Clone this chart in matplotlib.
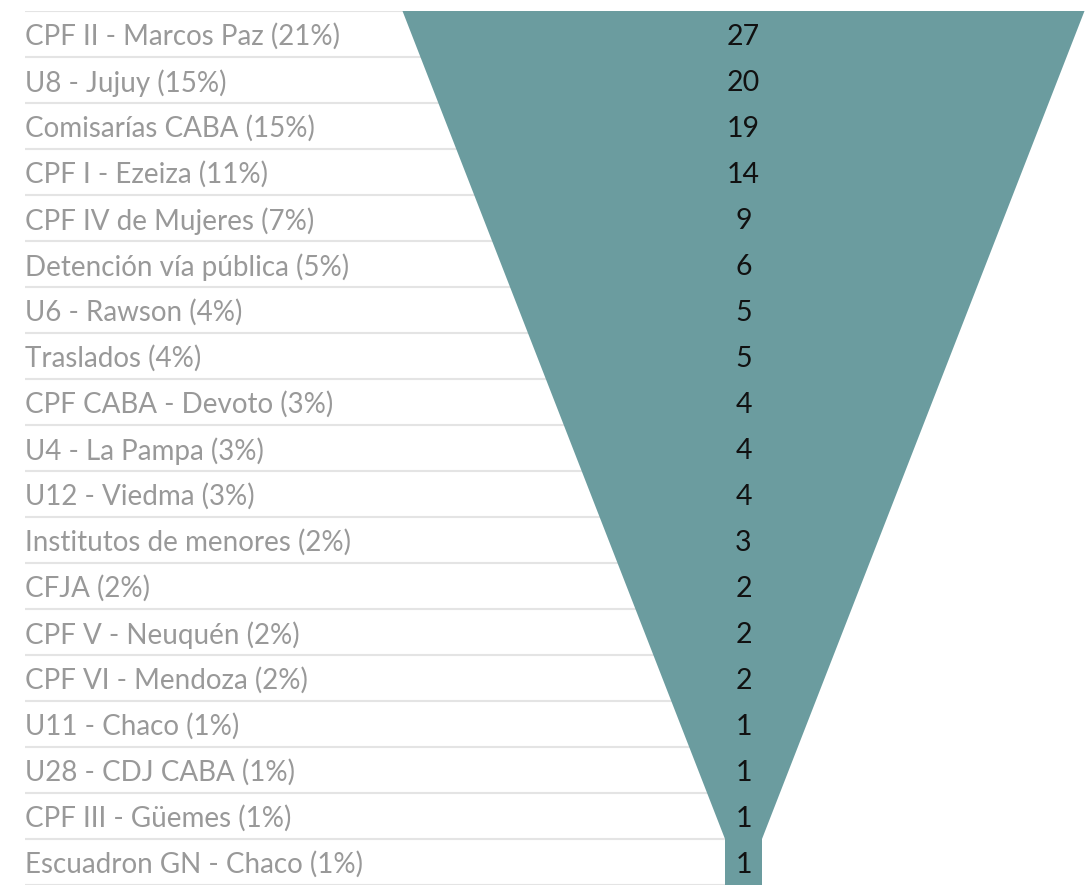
import numpy as np
import matplotlib.pyplot as plt
from matplotlib.patches import Polygon

# - - - - - - - - - - - - - - - - - - - - - - - - - - - - - - - - -
# DATA
# - - - - - - - - - - - - - - - - - - - - - - - - - - - - - - - - -

places = ['CPF II - Marcos Paz', 'U8 - Jujuy', 'Comisarías CABA', 'CPF I - Ezeiza',
          'CPF IV de Mujeres', 'Detención vía pública', 'U6 - Rawson', 'Traslados',
          'CPF CABA - Devoto', 'U4 - La Pampa', 'U12 - Viedma', 'Institutos de menores',
          'CFJA', 'CPF V - Neuquén', 'CPF VI - Mendoza', 'U11 - Chaco',
          'U28 - CDJ CABA', 'CPF III - Güemes', 'Escuadron GN - Chaco']
counts = [27, 20, 19, 14, 9, 6, 5, 5, 4, 4, 4, 3, 2, 2, 2, 1, 1, 1, 1]
shares = [21, 15, 15, 11, 7, 5, 4, 4, 3, 3, 3, 2, 2, 2, 2, 1, 1, 1, 1]

# - - - - - - - - - - - - - - - - - - - - - - - - - - - - - - - - -
# LAYOUT
# - - - - - - - - - - - - - - - - - - - - - - - - - - - - - - - - -

W, H = 1085, 889
TOP_PX, BOT_PX = 11, 885
CENTER = 743.5
TOP_HALF = 341
NECK_HALF = 18.5
NECK_ROWS = 1
FUNNEL_COLOR = '#6b9c9f'
FONT = 'Lato'
TEXT_DY = 0.56   # label position inside a row

n = len(places)

fig = plt.figure(figsize=(W / 100, H / 100), dpi=100)
ax = fig.add_axes([0, (H - BOT_PX) / H, 1, (BOT_PX - TOP_PX) / H])
ax.set_xlim(0, W)
ax.set_ylim(n, 0)
ax.axis('off')

# separator lines
for i in range(n + 1):
    ax.plot([25, CENTER], [i, i], color='#e4e4e4', lw=1.5, zorder=1,
            solid_capstyle='butt')

# funnel shape
neck_top = n - NECK_ROWS
pts = [(CENTER - TOP_HALF, 0), (CENTER - NECK_HALF, neck_top),
       (CENTER - NECK_HALF, n), (CENTER + NECK_HALF, n),
       (CENTER + NECK_HALF, neck_top), (CENTER + TOP_HALF, 0)]
ax.add_patch(Polygon(pts, closed=True, facecolor=FUNNEL_COLOR, edgecolor='none', zorder=2))

for i, (p, c, s) in enumerate(zip(places, counts, shares)):
    ax.text(25, i + TEXT_DY, f'{p} ({s}%)', ha='left', va='center', fontsize=20,
            color='#999999', family=FONT, zorder=3)
    ax.text(CENTER, i + TEXT_DY, str(c), ha='center', va='center', fontsize=20.5,
            color='#111111', family=FONT, zorder=3)

fig.savefig('out.png', dpi=100, facecolor='white')
